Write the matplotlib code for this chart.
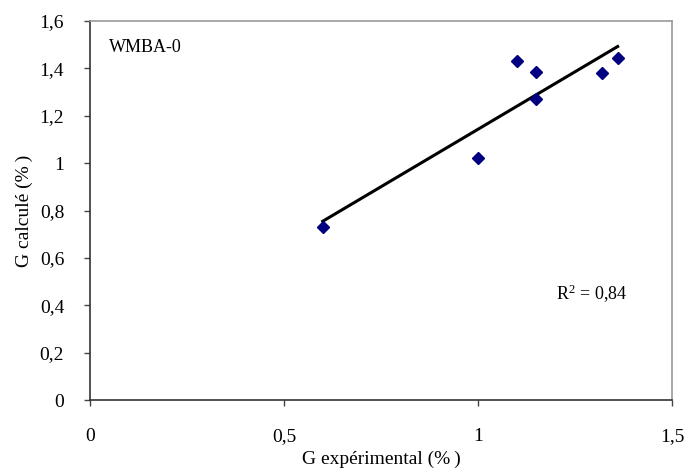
import matplotlib.pyplot as plt
import numpy as np
from matplotlib.ticker import FuncFormatter

# Données
g_exp = [0.60, 1.00, 1.10, 1.15, 1.15, 1.32, 1.36]
g_calc = [0.73, 1.02, 1.43, 1.385, 1.27, 1.38, 1.445]

x_ticks = [0, 0.5, 1, 1.5]
y_ticks = [0, 0.2, 0.4, 0.6, 0.8, 1.0, 1.2, 1.4, 1.6]

plt.rcParams['font.family'] = ['Liberation Serif', 'DejaVu Serif']
plt.rcParams['mathtext.default'] = 'regular'

fig = plt.figure(figsize=(6.91, 4.72), dpi=100)
ax = fig.add_axes([0.130, 0.1525, 0.8425, 0.803])

# Droite de tendance linéaire
a, b = np.polyfit(g_exp, g_calc, 1)
xl = np.array([min(g_exp), max(g_exp)])
ax.plot(xl, a * xl + b, color='black', lw=2.2, zorder=2)

ax.plot(g_exp, g_calc, 'D', color='#000080', markersize=6.5, zorder=3)

ax.set_xlim(0, 1.5)
ax.set_ylim(0, 1.6)
ax.set_xticks(x_ticks)
ax.set_yticks(y_ticks)

fmt = FuncFormatter(lambda v, p: ('%g' % v).replace('.', ','))
ax.xaxis.set_major_formatter(fmt)
ax.yaxis.set_major_formatter(fmt)

ax.tick_params(direction='out', length=4.5, width=1, color='#444444',
               labelsize=14)
ax.tick_params(axis='y', pad=14)
ax.tick_params(axis='x', pad=16)

for s in ['top', 'right']:
    ax.spines[s].set_color('#999999')
    ax.spines[s].set_linewidth(1.2)
for s in ['left', 'bottom']:
    ax.spines[s].set_color('#333333')
    ax.spines[s].set_linewidth(1.2)

ax.set_xlabel('G expérimental (%\u2009)', fontsize=14, labelpad=4)
ax.set_ylabel('G calculé (%\u2009)', fontsize=14, labelpad=5)

ax.text(0.05, 1.49, 'WMBA-0', fontsize=13, va='center')
ax.text(1.20, 0.45, 'R$^{2}$ = 0,84', fontsize=13, va='center')

fig.savefig('out.png', dpi=100)
